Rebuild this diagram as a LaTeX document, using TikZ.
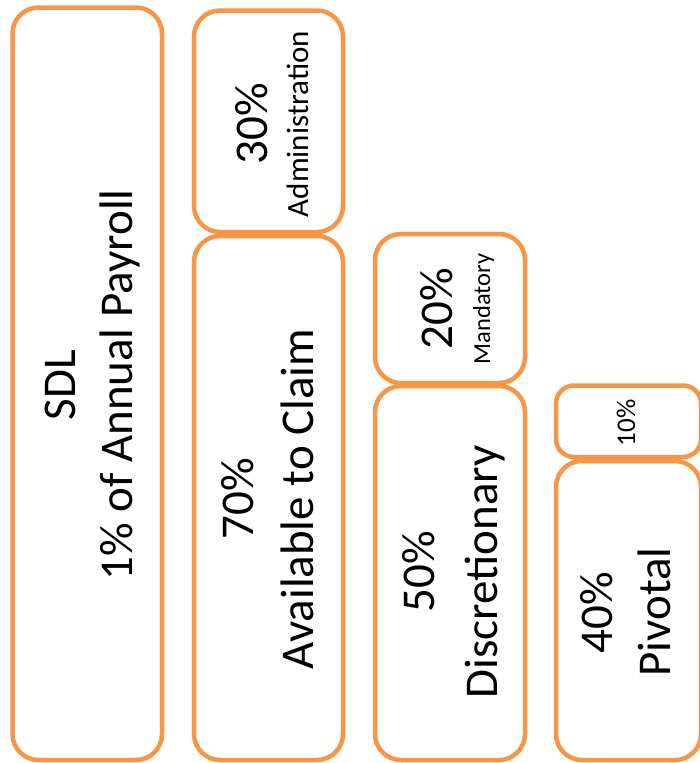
\documentclass[tikz,border=0pt]{standalone}
\usepackage{fontspec}
\setmainfont{Carlito}
\definecolor{boxorange}{HTML}{F79646}
\begin{document}
\begin{tikzpicture}[x=1pt,y=-1pt,
  box/.style={draw=boxorange,line width=4.5pt,rounded corners=26pt,fill=white,
    inner sep=0pt,rectangle},
  smallbox/.style={box,rounded corners=18pt},
  lbl/.style={rotate=90,anchor=base,inner sep=0pt,text=black},
  big/.style={lbl,font=\fontsize{47}{56}\selectfont},
]
\useasboundingbox (0,0) rectangle (700,763);
\fill[white] (0,0) rectangle (700,763);
% boxes
\node[box,minimum width=149.5pt,minimum height=752.5pt] (sdl) at (87.25,383.75) {};
\node[box,minimum width=149pt,minimum height=221.5pt] (adm) at (268.5,121.25) {};
\node[box,minimum width=149pt,minimum height=524pt] (avail) at (268.5,498) {};
\node[box,minimum width=150pt,minimum height=149pt] (mand) at (450,308.5) {};
\node[box,minimum width=150pt,minimum height=374pt] (disc) at (450,573) {};
\node[smallbox,minimum width=145pt,minimum height=71.5pt] (ten) at (628.5,421.25) {};
\node[box,minimum width=145pt,minimum height=299pt] (piv) at (628.5,610.5) {};
% labels
\node[big] (sdlA) at (75,385) {SDL};
\node[big] (sdlB) at (132,385) {1\% of Annual Payroll};
\node[big] (admA) at (267,124) {30\%};
\node[lbl,font=\fontsize{31}{37}\selectfont] (admB) at (308,124) {Administration};
\node[big] (avA) at (253,499) {70\%};
\node[big] (avB) at (313,499) {Available to Claim};
\node[big] (manA) at (452,309) {20\%};
\node[lbl,font=\fontsize{24.5}{29}\selectfont] (manB) at (490,309) {Mandatory};
\node[big] (disA) at (434,572) {50\%};
\node[big] (disB) at (497,572) {Discretionary};
\node[lbl,font=\fontsize{27}{32}\selectfont] (tenA) at (635,423) {10\%};
\node[big] (pivA) at (612,613) {40\%};
\node[big] (pivB) at (670,612) {Pivotal};
\end{tikzpicture}
\end{document}
